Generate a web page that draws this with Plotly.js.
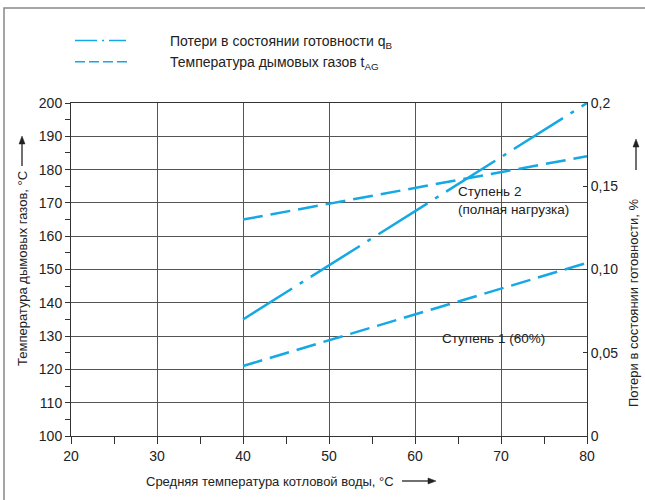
<!DOCTYPE html>
<html>
<head>
<meta charset="utf-8">
<script src="https://cdn.plot.ly/plotly-3.0.1.min.js"></script>
<style>
html,body{margin:0;padding:0;background:#fff;}
#chart{width:645px;height:500px;}
</style>
</head>
<body>
<div id="chart"></div>
<script>
// ---- data ----
var waterTemp = [40, 80];                 // Средняя температура котловой воды, °C
var lossesQB = [0.07, 0.20];              // Потери в состоянии готовности, %
var flueStage2 = [165, 184];              // Ступень 2 (полная нагрузка), °C
var flueStage1 = [121, 152];              // Ступень 1 (60%), °C

var xTicks = [20, 30, 40, 50, 60, 70, 80];
var yTicks = [100, 110, 120, 130, 140, 150, 160, 170, 180, 190, 200];
var y2TickVals = [0, 0.05, 0.10, 0.15, 0.2];
var y2TickText = ['0', '0,05', '0,10', '0,15', '0,2'];

var legendLosses = 'Потери в состоянии готовности q<sub>B</sub>';
var legendFlue = 'Температура дымовых газов t<sub>AG</sub>';
var xTitle = 'Средняя температура котловой воды, °C';
var yTitle = 'Температура дымовых газов, °C';
var y2Title = 'Потери в состоянии готовности, %';
var stage2Label = 'Ступень 2<br>(полная нагрузка)';
var stage1Label = 'Ступень 1 (60%)';

var C = '#14a8e4';
var INK = '#222';
var FONT = 'Liberation Sans, Arial, sans-serif';

var traces = [
  {x: waterTemp, y: lossesQB, yaxis: 'y2', mode: 'lines', showlegend: false,
   line: {color: C, width: 2.5, dash: '58px,9px,4px,9px'}, hoverinfo: 'skip'},
  {x: waterTemp, y: flueStage2, mode: 'lines', showlegend: false,
   line: {color: C, width: 2.5, dash: '20px,8px'}, hoverinfo: 'skip'},
  {x: waterTemp, y: flueStage1, mode: 'lines', showlegend: false,
   line: {color: C, width: 2.5, dash: '20px,8px'}, hoverinfo: 'skip'},
  // legend-only entries
  {x: [null], y: [null], mode: 'lines', name: legendLosses, showlegend: true,
   line: {color: C, width: 1.5, dash: '22px,5px,2px,5px,17px,300px'}},
  {x: [null], y: [null], mode: 'lines', name: legendFlue, showlegend: true,
   line: {color: C, width: 1.5, dash: '10px,4px,10px,4px,10px,4px,10px,300px'}}
];

function px2x(p){ return (p - 71) / 516; }
function py2y(p){ return (436 - p) / 333; }

// arrow helper: line from tail to tip plus a filled head (decoration only)
function arrowShapes(tx, ty, hx, hy){
  var dx = hx - tx, dy = hy - ty, L = Math.sqrt(dx*dx + dy*dy);
  var ux = dx / L, uy = dy / L, hl = 8, hw = 3;
  var bx = hx - ux*hl, by = hy - uy*hl;
  var p1x = bx - uy*hw, p1y = by + ux*hw, p2x = bx + uy*hw, p2y = by - ux*hw;
  return [
    {type: 'line', xref: 'paper', yref: 'paper', x0: px2x(tx), y0: py2y(ty), x1: px2x(bx), y1: py2y(by),
     line: {color: INK, width: 1.3}},
    {type: 'path', xref: 'paper', yref: 'paper',
     path: 'M' + px2x(hx) + ',' + py2y(hy) + ' L' + px2x(p1x) + ',' + py2y(p1y) + ' L' + px2x(p2x) + ',' + py2y(p2y) + ' Z',
     fillcolor: INK, line: {color: INK, width: 0.5}}
  ];
}

var shapes = [
  {type: 'rect', xref: 'paper', yref: 'paper', x0: px2x(4), x1: px2x(660), y0: py2y(520), y1: py2y(8),
   line: {color: '#888', width: 1.5}, fillcolor: 'rgba(0,0,0,0)', layer: 'below'},
  {type: 'rect', xref: 'paper', yref: 'paper', x0: px2x(430), x1: px2x(583), y0: py2y(220), y1: py2y(187),
   line: {width: 0}, fillcolor: '#fff', layer: 'between'},
  {type: 'rect', xref: 'paper', yref: 'paper', x0: px2x(425), x1: px2x(557), y0: py2y(352), y1: py2y(322),
   line: {width: 0}, fillcolor: '#fff', layer: 'between'}
].concat(arrowShapes(402, 481, 436, 481))
 .concat(arrowShapes(22, 166, 22, 136))
 .concat(arrowShapes(636, 170, 636, 139));

var layout = {
  width: 645, height: 500,
  margin: {l: 71, r: 58, t: 103, b: 64},
  paper_bgcolor: '#fff', plot_bgcolor: '#fff',
  font: {family: FONT, size: 14, color: INK},
  showlegend: true,
  legend: {x: px2x(70), y: py2y(25), xanchor: 'left', yanchor: 'top',
           itemwidth: 90, font: {size: 14, color: INK}, bgcolor: 'rgba(0,0,0,0)',
           traceorder: 'normal', itemclick: false, itemdoubleclick: false},
  xaxis: {range: [20, 80], tickvals: xTicks, showgrid: true, gridcolor: '#555', gridwidth: 1,
          zeroline: false, showline: true, linecolor: '#333', linewidth: 1, mirror: true,
          ticks: 'outside', ticklen: 7, tickcolor: '#333',
          minor: {dtick: 5, ticks: 'outside', ticklen: 7, tickcolor: '#333', showgrid: false},
          tickfont: {size: 14}, fixedrange: true},
  yaxis: {range: [100, 200], tickvals: yTicks, showgrid: true, gridcolor: '#555', gridwidth: 1,
          zeroline: false, showline: true, linecolor: '#333', linewidth: 1,
          ticks: 'outside', ticklen: 5, tickcolor: '#333',
          minor: {dtick: 5, ticks: 'outside', ticklen: 5, tickcolor: '#333', showgrid: false},
          tickfont: {size: 14}, fixedrange: true},
  yaxis2: {range: [0, 0.2], overlaying: 'y', side: 'right', tickvals: y2TickVals, ticktext: y2TickText,
           showgrid: false, zeroline: false, showline: true, linecolor: '#333', linewidth: 1,
           ticks: 'inside', ticklen: 4, tickcolor: '#333', tickfont: {size: 14}, fixedrange: true},
  shapes: shapes,
  annotations: [
    {text: stage2Label, xref: 'paper', yref: 'paper', x: px2x(456), y: py2y(200), xanchor: 'left', yanchor: 'middle',
     align: 'left', showarrow: false, font: {size: 13.5, color: INK}},
    {text: stage1Label, xref: 'paper', yref: 'paper', x: px2x(440), y: py2y(338), xanchor: 'left', yanchor: 'middle',
     align: 'left', showarrow: false, font: {size: 13.5, color: INK}},
    {text: xTitle, xref: 'paper', yref: 'paper', x: px2x(270), y: py2y(481), xanchor: 'center', yanchor: 'middle',
     showarrow: false, font: {size: 13, color: INK}},
    {text: yTitle, xref: 'paper', yref: 'paper', x: px2x(22), y: py2y(269), xanchor: 'center', yanchor: 'middle',
     textangle: -90, showarrow: false, font: {size: 13, color: INK}},
    {text: y2Title, xref: 'paper', yref: 'paper', x: px2x(633), y: py2y(303), xanchor: 'center', yanchor: 'middle',
     textangle: -90, showarrow: false, font: {size: 13, color: INK}}
  ]
};

Plotly.newPlot('chart', traces, layout, {staticPlot: true, displayModeBar: false});
</script>
</body>
</html>
